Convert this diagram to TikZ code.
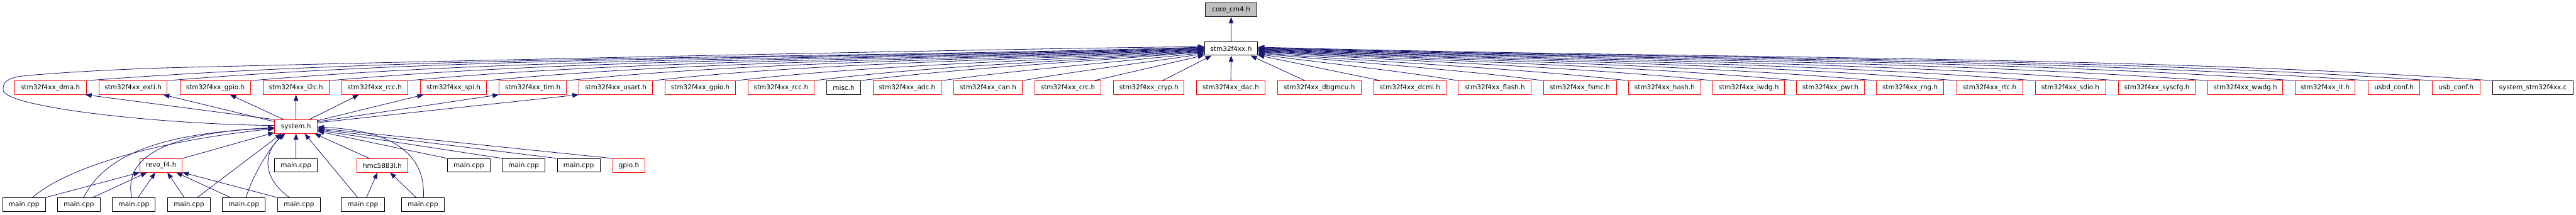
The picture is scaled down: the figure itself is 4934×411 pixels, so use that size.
\documentclass[tikz,border=0pt]{standalone}
\usepackage{fontspec}
\setmainfont{DejaVu Sans}
\usetikzlibrary{arrows.meta,calc}
\definecolor{edgeblue}{HTML}{191970}
\definecolor{boxred}{HTML}{FF0000}
\definecolor{coregray}{HTML}{BFBFBF}
\newcommand\rowtwo[4]{\node[rbox, minimum width=#3] (#1) at (#2,168) {#4};}
\newcommand\fanedge[3]{\draw[edge] (#1) .. controls ($(#1)!0.3!(#2)+(0,-#3)$) and ($(#2)!0.35!(#1)$) .. (#2);}
\begin{document}
\begin{tikzpicture}[x=1pt,y=-1pt,
  every node/.style={font=\fontsize{12.6}{14}\selectfont, inner sep=0pt, minimum height=26pt, text=black},
  rbox/.style={draw=boxred, line width=1pt, fill=white, text=black},
  kbox/.style={draw=black, line width=1.2pt, fill=white, text=black},
  gbox/.style={draw=black, line width=1.2pt, fill=coregray, text=black},
  edge/.style={draw=edgeblue, line width=1pt, -{Triangle[length=12pt,width=9pt]}},
]
\useasboundingbox (0,0) rectangle (4934,411);

% top
\node[gbox, minimum width=98] (core) at (2358,19) {core\_cm4.h};
\node[kbox, minimum width=102] (stm) at (2358,93) {stm32f4xx.h};

% second row
\rowtwo{dma}{96.5}{137}{stm32f4xx\_dma.h}
\rowtwo{exti}{255}{130}{stm32f4xx\_exti.h}
\rowtwo{gpio}{412.5}{135}{stm32f4xx\_gpio.h}
\rowtwo{i2c}{567}{126}{stm32f4xx\_i2c.h}
\rowtwo{rcc}{717.5}{127}{stm32f4xx\_rcc.h}
\rowtwo{spi}{868.5}{127}{stm32f4xx\_spi.h}
\rowtwo{tim}{1020.5}{129}{stm32f4xx\_tim.h}
\rowtwo{usart}{1179.5}{141}{stm32f4xx\_usart.h}
\rowtwo{gpiob}{1341.5}{135}{stm32f4xx\_gpio.h}
\rowtwo{rccb}{1496}{126}{stm32f4xx\_rcc.h}
\node[kbox, minimum width=64] (misc) at (1616,168) {misc.h};
\rowtwo{adc}{1737.5}{131}{stm32f4xx\_adc.h}
\rowtwo{can}{1892.5}{131}{stm32f4xx\_can.h}
\rowtwo{crc}{2045.5}{127}{stm32f4xx\_crc.h}
\rowtwo{cryp}{2200.5}{135}{stm32f4xx\_cryp.h}
\rowtwo{dac}{2357.5}{131}{stm32f4xx\_dac.h}
\rowtwo{dbgmcu}{2527}{160}{stm32f4xx\_dbgmcu.h}
\rowtwo{dcmi}{2700.5}{139}{stm32f4xx\_dcmi.h}
\rowtwo{flash}{2863}{140}{stm32f4xx\_flash.h}
\rowtwo{fsmc}{3026}{140}{stm32f4xx\_fsmc.h}
\rowtwo{hash}{3188.5}{139}{stm32f4xx\_hash.h}
\rowtwo{iwdg}{3349.5}{137}{stm32f4xx\_iwdg.h}
\rowtwo{pwr}{3506}{130}{stm32f4xx\_pwr.h}
\rowtwo{rng}{3658.5}{129}{stm32f4xx\_rng.h}
\rowtwo{rtc}{3811}{126}{stm32f4xx\_rtc.h}
\rowtwo{sdio}{3965.5}{135}{stm32f4xx\_sdio.h}
\rowtwo{syscfg}{4131}{148}{stm32f4xx\_syscfg.h}
\rowtwo{wwdg}{4300.5}{143}{stm32f4xx\_wwdg.h}
\rowtwo{it}{4453.5}{115}{stm32f4xx\_it.h}
\rowtwo{usbd}{4585.5}{99}{usbd\_conf.h}
\rowtwo{usb}{4704.5}{91}{usb\_conf.h}
\node[kbox, minimum width=155] (sysc) at (4851.5,168) {system\_stm32f4xx.c};

% system.h
\node[rbox, minimum width=82] (sys) at (567,242.5) {system.h};

% middle row
\node[rbox, minimum width=81] (revo) at (308.5,317) {revo\_f4.h};
\node[kbox, minimum width=82] (mA) at (567,317) {main.cpp};
\node[rbox, minimum width=97] (hmc) at (732.5,317) {hmc5883l.h};
\node[kbox, minimum width=82] (m2) at (898,317) {main.cpp};
\node[kbox, minimum width=82] (m3) at (1003,317) {main.cpp};
\node[kbox, minimum width=82] (m4) at (1108.5,317) {main.cpp};
\node[rbox, minimum width=61] (gpioh) at (1204.5,317) {gpio.h};

% bottom row
\node[kbox, minimum width=82] (b1) at (46,392) {main.cpp};
\node[kbox, minimum width=82] (b2) at (151,392) {main.cpp};
\node[kbox, minimum width=82] (b3) at (256.5,392) {main.cpp};
\node[kbox, minimum width=82] (b4) at (362,392) {main.cpp};
\node[kbox, minimum width=82] (b5) at (467,392) {main.cpp};
\node[kbox, minimum width=82] (b6) at (572.5,392) {main.cpp};
\node[kbox, minimum width=82] (b7) at (695,392) {main.cpp};
\node[kbox, minimum width=82] (b8) at (810,392) {main.cpp};

% stm32f4xx.h -> core
\draw[edge] (stm.north) -- (core.south);

% second row -> stm32f4xx.h
\fanedge{dma.north east}{stm.177}{30}
\fanedge{exti.north east}{stm.178}{30}
\fanedge{gpio.north east}{stm.179}{28}
\fanedge{i2c.north east}{stm.180}{26}
\fanedge{rcc.north east}{stm.181}{24}
\fanedge{spi.north east}{stm.182}{22}
\fanedge{tim.north east}{stm.183}{20}
\fanedge{usart.north east}{stm.184}{18}
\fanedge{gpiob.north east}{stm.185}{14}
\fanedge{rccb.north east}{stm.186}{12}
\fanedge{misc.north east}{stm.187}{8}
\fanedge{adc.north east}{stm.189}{5}
\fanedge{can.north east}{stm.191}{3}
\draw[edge] ($(crc.north east)+(-14,0)$) -- (stm.194);
\draw[edge] ($(cryp.north east)+(-42,0)$) -- (stm.200);
\draw[edge] (dac.north) -- (stm.south);
\draw[edge] ($(dbgmcu.north west)+(53,0)$) -- (stm.340);
\draw[edge] ($(dcmi.north west)+(14,0)$) -- (stm.346);
\fanedge{flash.north west}{stm.348}{4}
\fanedge{fsmc.north west}{stm.350}{6}
\fanedge{hash.north west}{stm.351}{8}
\fanedge{iwdg.north west}{stm.353}{10}
\fanedge{pwr.north west}{stm.354}{12}
\fanedge{rng.north west}{stm.355}{14}
\fanedge{rtc.north west}{stm.356}{16}
\fanedge{sdio.north west}{stm.357}{18}
\fanedge{syscfg.north west}{stm.358}{20}
\fanedge{wwdg.north west}{stm.359}{22}
\fanedge{it.north west}{stm.0}{24}
\fanedge{usbd.north west}{stm.1}{26}
\fanedge{usb.north west}{stm.2}{28}
\fanedge{sysc.north west}{stm.3}{30}

% system.h -> stm32f4xx.h (around the left)
\draw[edge] ($(sys.west)+(0,-2)$) .. controls (300,238) and (6,205) .. (6,172)
  .. controls (5,158) and (14,150) .. (40,146)
  .. controls (120,138) and (250,132) .. (318,130)
  .. controls (1000,113) and (2000,92) .. (stm.176);

% system.h -> second row
\draw[edge] (sys.north west) -- ($(dma.south east)+(-2,0)$);
\draw[edge] ($(sys.north west)+(0,4)$) -- ($(exti.south east)+(-8,0)$);
\draw[edge] ($(sys.north west)+(18,0)$) -- ($(gpio.south)+(28,0)$);
\draw[edge] (sys.north) -- (i2c.south);
\draw[edge] ($(sys.north east)+(-16,0)$) -- ($(rcc.south)+(-30,0)$);
\draw[edge] ($(sys.north east)+(0,2)$) -- ($(spi.south west)+(7,0)$);
\draw[edge] ($(sys.north east)+(0,4)$) -- (tim.south west);
\draw[edge] ($(sys.north east)+(0,6)$) -- (usart.south west);

% middle row -> system.h
\draw[edge] (revo.north east) -- ($(sys.south west)+(0,-2)$);
\draw[edge] (mA.north) -- (sys.south);
\draw[edge] ($(hmc.north)+(-25,0)$) -- ($(sys.south east)+(-6,0)$);
\draw[edge] (m2.north west) -- ($(sys.east)+(0,9)$);
\draw[edge] (m3.north west) -- ($(sys.east)+(0,7)$);
\draw[edge] (m4.north west) -- ($(sys.east)+(0,5)$);
\draw[edge] (gpioh.north west) -- ($(sys.east)+(0,3)$);

% bottom row -> system.h
\draw[edge] ($(b1.north)+(16,0)$) .. controls (130,320) and (300,270) .. ($(sys.west)+(0,4)$);
\draw[edge] ($(b2.north)+(9,0)$) .. controls (200,300) and (300,255) .. ($(sys.west)+(0,3)$);
\draw[edge] ($(b3.north)+(-4,0)$) .. controls (235,300) and (320,255) .. ($(sys.west)+(0,2)$);
\draw[edge] ($(b4.north)+(16,0)$) -- ($(sys.south west)+(14,0)$);
\draw[edge] ($(b5.north)+(4,0)$) .. controls (490,320) and (525,275) .. ($(sys.south west)+(18,0)$);
\draw[edge] ($(b6.north)+(-18,0)$) .. controls (500,340) and (505,290) .. ($(sys.south west)+(21,0)$);
\draw[edge] ($(b7.north)+(-10,0)$) -- ($(sys.south east)+(-25,0)$);
\draw[edge] ($(b8.north)+(1,0)$) .. controls (815,300) and (760,250) .. ($(sys.east)+(0,1)$);

% bottom row -> revo_f4.h
\draw[edge] (b1.north east) -- (revo.south west);
\draw[edge] ($(b2.north east)+(-15,0)$) -- ($(revo.south west)+(14,0)$);
\draw[edge] ($(b3.north)+(8,0)$) -- ($(revo.south)+(-11,0)$);
\draw[edge] ($(b4.north)+(-9,0)$) -- ($(revo.south)+(12,0)$);
\draw[edge] ($(b5.north west)+(16,0)$) -- ($(revo.south east)+(-12,0)$);
\draw[edge] (b6.north west) -- (revo.south east);

% bottom row -> hmc5883l.h
\draw[edge] ($(b7.north)+(7,0)$) -- ($(hmc.south)+(-9.5,0)$);
\draw[edge] ($(b8.north)+(-13,0)$) -- ($(hmc.south)+(14.5,0)$);
\end{tikzpicture}
\end{document}
